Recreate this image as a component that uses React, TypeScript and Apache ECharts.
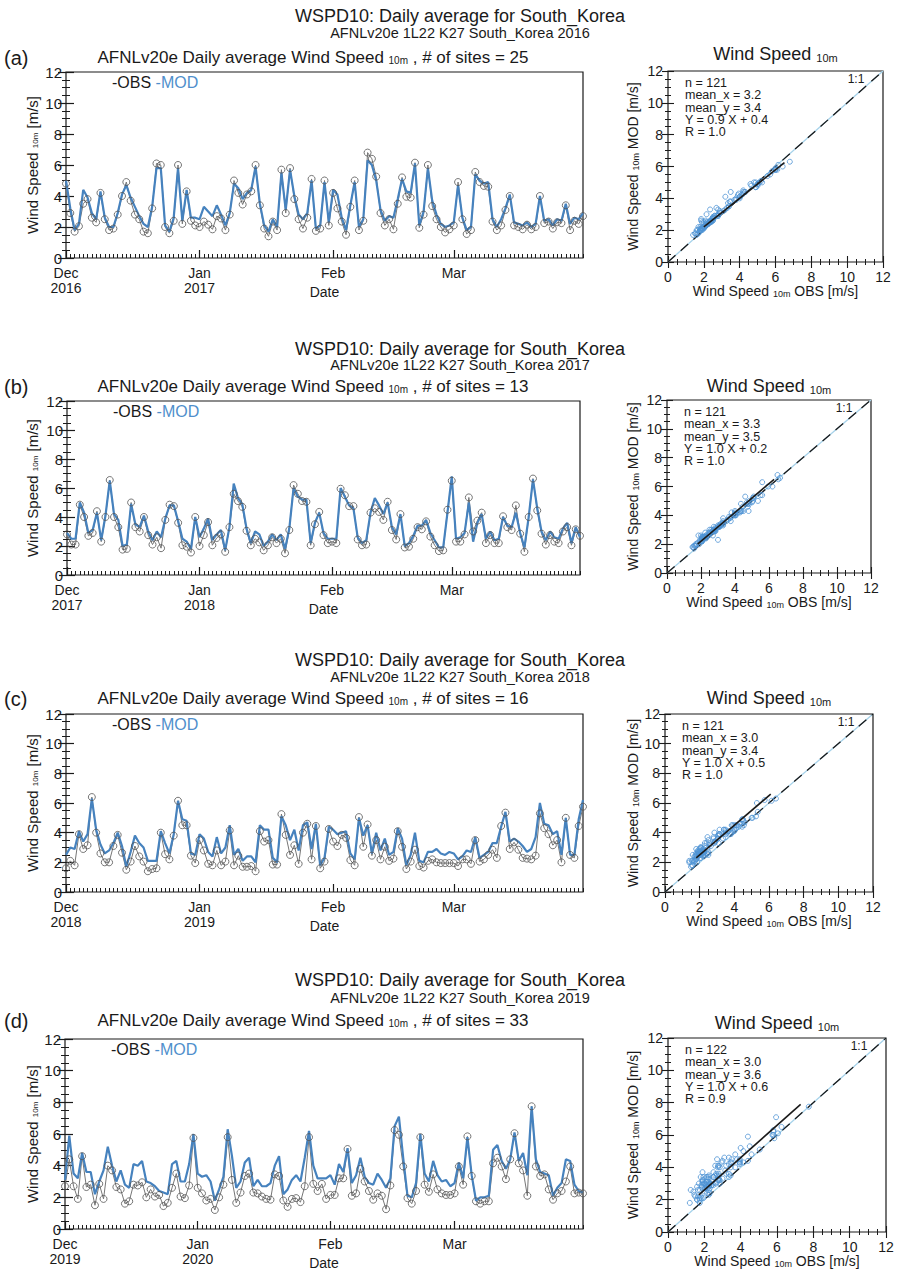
import React, { useEffect, useRef } from "react";
import * as echarts from "echarts";

// ---------------- data ----------------
const years = [2016, 2017, 2018, 2019];
const siteCounts = [25, 13, 16, 33];
const panelLetters = ["(a)", "(b)", "(c)", "(d)"];
const monthNames = ["Dec", "Jan", "Feb", "Mar"];
const monthStarts = [
  [0, 31, 62, 90],
  [0, 31, 62, 90],
  [0, 31, 62, 90],
  [0, 31, 62, 91],
];
const statN = [121, 121, 121, 122];
const statMeanX = [3.2, 3.3, 3.0, 3.0];
const statMeanY = [3.4, 3.5, 3.4, 3.6];
const regSlope = [0.9, 1.0, 1.0, 1.0];
const regIntercept = [0.4, 0.2, 0.5, 0.6];
const statR = [1.0, 1.0, 1.0, 0.9];
const regXStart = [2.0, 1.8, 1.8, 1.7];
const regXEnd = [6.5, 6.3, 6.1, 7.3];
const oneToOne = [0, 12];

const obsA = [
  4.8, 2.9, 1.7, 2.05, 3.5, 3.8, 2.6, 2.3, 4.2, 2.5,
  1.8, 1.9, 2.8, 4.0, 4.9, 3.7, 2.8, 2.5, 1.7, 1.6,
  3.2, 6.1, 6.0, 2.0, 1.6, 2.4, 6.0, 2.2, 4.3, 2.4,
  2.1, 2.0, 2.35, 2.15, 1.85, 2.7, 2.55, 1.8, 2.8, 5.0,
  4.2, 3.45, 4.1, 4.3, 6.0, 3.4, 1.9, 1.4, 2.35, 1.8,
  5.7, 2.9, 5.8, 3.8, 2.5, 1.9, 2.6, 5.1, 1.75, 1.9,
  5.0, 2.1, 4.2, 3.2, 2.35, 1.5, 3.3, 5.0, 1.8, 2.4,
  6.8, 6.4, 5.25, 2.9, 2.1, 2.5, 1.85, 3.5, 5.2, 3.95,
  3.9, 6.15, 1.95, 2.8, 6.0, 3.35, 2.5, 2.0, 1.65, 1.85,
  2.1, 4.9, 2.5, 1.55, 1.8, 5.55, 4.9, 4.65, 4.6, 2.35,
  1.8, 2.1, 3.1, 4.0, 2.1, 2.0, 1.85, 2.15, 1.85, 2.0,
  4.0, 2.25, 2.35, 1.9, 2.3, 2.25, 3.4, 1.8, 2.4, 2.2,
  2.7,
];
const modA = [
  5.0, 3.2, 1.8, 2.2, 4.4, 3.9, 2.9, 2.5, 4.3, 2.6,
  2.0, 2.0, 2.9, 4.1, 4.7, 3.9, 3.3, 2.7, 2.2, 2.0,
  3.3, 5.8, 5.8, 2.1, 1.7, 2.6, 5.8, 2.4, 4.4, 2.6,
  2.6, 2.5, 3.3, 3.0, 2.7, 3.4, 2.8, 2.1, 2.9, 4.8,
  4.5, 3.8, 4.2, 4.4, 5.9, 3.5, 2.1, 1.7, 2.5, 2.0,
  5.5, 3.1, 5.7, 4.0, 2.8, 2.5, 2.9, 5.0, 1.9, 2.1,
  4.9, 2.3, 4.4, 4.1, 2.6, 1.8, 3.4, 4.9, 2.0, 2.5,
  6.3, 6.0, 5.0, 3.1, 2.4, 2.7, 2.6, 3.8, 5.1, 4.3,
  4.2, 6.1, 2.1, 3.0, 5.8, 3.7, 2.8, 2.2, 2.0, 2.1,
  2.3, 4.7, 2.6, 1.8, 2.0, 5.4, 5.0, 4.8, 4.9, 2.5,
  2.0, 2.5, 3.2, 4.1, 2.3, 2.2, 2.1, 2.3, 2.0, 2.2,
  4.0, 2.4, 2.5, 2.1, 2.5, 2.4, 3.5, 2.2, 2.6, 2.5,
  2.9,
];
const obsB = [
  2.8, 2.1, 2.1, 4.85, 4.0, 2.7, 2.9, 4.4, 2.3, 4.0,
  6.55, 4.0, 3.3, 1.75, 1.8, 5.0, 3.3, 3.0, 4.0, 2.75,
  2.1, 2.6, 1.85, 3.8, 4.85, 4.75, 3.6, 2.05, 1.95, 1.55,
  4.0, 2.0, 2.75, 3.65, 2.05, 2.55, 2.8, 1.6, 3.3, 5.6,
  5.1, 4.7, 3.05, 2.05, 2.5, 2.25, 1.7, 2.05, 2.6, 2.2,
  2.5, 1.5, 3.1, 6.2, 5.6, 5.1, 5.05, 2.05, 3.5, 4.35,
  2.75, 2.2, 2.3, 2.2, 5.95, 5.5, 4.75, 4.75, 2.45, 2.05,
  2.1, 4.3, 4.6, 4.35, 3.8, 5.05, 3.1, 2.45, 4.2, 1.9,
  1.95, 2.5, 3.3, 3.15, 3.7, 2.65, 2.05, 1.65, 1.7, 4.5,
  6.5, 2.3, 2.3, 2.8, 5.35, 3.0, 3.75, 4.3, 2.2, 2.75,
  2.2, 2.2, 4.05, 3.3, 3.1, 4.8, 2.85, 1.6, 4.0, 6.65,
  4.45, 2.85, 2.1, 2.75, 2.3, 2.2, 3.0, 3.3, 2.05, 3.15,
  2.7,
];
const modB = [
  2.9, 2.5, 2.5, 5.0, 4.3, 2.9, 3.1, 4.3, 2.4, 4.1,
  6.5, 4.2, 3.8, 2.0, 2.1, 4.9, 3.5, 3.3, 4.1, 3.0,
  2.4, 3.0, 2.6, 3.9, 4.8, 4.8, 3.7, 2.5, 2.3, 1.8,
  4.0, 2.6, 3.2, 3.9, 2.4, 2.8, 3.1, 1.7, 3.3, 6.3,
  5.3, 4.9, 3.2, 2.2, 3.0, 2.8, 2.0, 2.3, 2.8, 2.4,
  2.8, 1.8, 3.2, 6.0, 5.4, 5.2, 5.2, 2.2, 3.6, 4.3,
  2.9, 2.5, 2.5, 2.5, 6.0, 5.4, 4.8, 4.6, 2.6, 2.2,
  2.4, 4.3, 5.3, 4.8, 4.2, 5.0, 3.3, 2.8, 4.2, 2.0,
  2.2, 2.7, 3.4, 3.4, 3.8, 2.9, 2.4, 1.9, 1.9, 4.3,
  6.8, 2.5, 2.6, 2.9, 5.0, 2.3, 3.6, 4.2, 2.5, 3.0,
  2.4, 2.5, 4.0, 3.4, 3.3, 4.3, 2.9, 1.9, 4.0, 6.6,
  4.6, 3.0, 2.4, 3.0, 2.6, 2.5, 3.2, 3.6, 2.2, 3.3,
  2.6,
];
const obsC = [
  1.6, 2.1, 1.8, 3.9, 2.9, 3.15, 6.4, 4.0, 2.6, 2.0,
  2.0, 3.1, 3.85, 2.65, 1.5, 2.05, 3.1, 2.4, 2.05, 1.4,
  1.55, 1.6, 4.0, 2.55, 2.2, 3.8, 6.15, 4.5, 4.5, 2.45,
  1.95, 3.5, 2.8, 1.9, 1.8, 2.8, 1.8, 2.05, 4.15, 1.8,
  2.45, 1.7, 1.7, 1.75, 1.4, 4.1, 3.4, 3.5, 1.85, 1.85,
  5.25, 3.85, 2.5, 3.15, 1.9, 4.0, 4.6, 2.2, 4.45, 1.6,
  2.05, 4.25, 3.4, 3.1, 3.85, 3.65, 2.15, 1.8, 5.05, 3.05,
  4.55, 2.45, 3.5, 2.2, 3.05, 2.1, 2.25, 4.1, 3.05, 1.55,
  2.05, 2.85, 1.75, 1.65, 2.1, 2.2, 2.0, 1.95, 1.95, 1.95,
  1.95, 1.75, 2.2, 2.2, 1.9, 3.5, 2.05, 2.2, 2.5, 2.85,
  2.3, 4.45, 5.35, 2.9, 3.35, 2.85, 2.3, 2.25, 2.2, 2.45,
  5.3, 4.3, 3.9, 3.15, 3.5, 2.0, 5.0, 2.5, 2.3, 4.45,
  5.75,
];
const modC = [
  2.5, 3.0, 2.9, 4.1, 3.4, 3.9, 6.3, 4.2, 3.2, 2.6,
  2.8, 3.3, 4.0, 3.1, 1.7, 2.7, 3.8, 3.3, 3.0, 2.1,
  2.1, 2.1, 4.1, 3.3, 2.6, 3.9, 6.15, 4.9, 4.8, 2.6,
  2.5, 3.9, 3.6, 2.7, 2.4, 3.7, 2.6, 3.0, 4.5, 2.5,
  2.9, 2.1, 2.4, 2.4, 2.0, 4.5, 4.2, 4.2, 2.3, 2.0,
  5.1, 4.5, 3.5, 4.2, 2.8, 4.5, 4.7, 2.9, 4.6, 1.8,
  2.3, 4.4, 4.2, 3.9, 4.0, 4.1, 2.6, 2.2, 5.0, 3.8,
  4.5, 2.6, 4.0, 2.8, 3.6, 2.5, 2.7, 4.3, 3.6, 1.8,
  2.5, 4.0, 2.1, 2.0, 2.7, 2.7, 2.9, 2.6, 2.5, 2.7,
  2.6, 2.2, 2.4, 2.8, 2.7, 3.7, 2.3, 2.5, 2.7, 3.3,
  3.3, 4.4, 5.4, 3.4, 3.6, 3.4, 3.1, 2.7, 2.9, 3.7,
  6.0, 4.6, 4.5, 3.9, 4.1, 2.5, 5.0, 2.5, 2.5, 4.9,
  6.2,
];
const obsD = [
  2.7, 4.4, 2.7, 1.9, 4.6, 2.65, 2.8, 1.5, 2.85, 1.9,
  4.0, 3.7, 2.65, 2.5, 1.6, 1.75, 2.8, 2.75, 2.95, 2.0,
  2.5, 2.05, 2.15, 1.45, 1.65, 2.6, 3.5, 2.05, 1.95, 2.75,
  5.75, 2.6, 2.25, 1.8, 1.9, 1.2, 2.0, 2.8, 5.8, 3.1,
  1.65, 2.3, 3.35, 3.5, 2.3, 2.25, 2.05, 1.9, 1.85, 3.45,
  3.35, 1.8, 1.4, 1.9, 1.95, 1.7, 2.7, 5.8, 2.85, 2.4,
  2.85, 1.9, 2.15, 2.15, 3.2, 3.2, 5.05, 2.1, 2.25, 3.8,
  3.0, 2.4, 1.85, 2.25, 2.1, 1.25, 2.75, 6.25, 5.95, 3.95,
  1.95, 1.6, 2.4, 5.8, 2.8, 2.35, 3.45, 2.5, 2.25, 2.15,
  2.15, 2.25, 3.95, 2.8, 5.85, 3.35, 1.75, 1.6, 1.75, 1.75,
  4.15, 4.5, 3.95, 3.15, 4.4, 6.05, 4.15, 3.7, 2.1, 7.75,
  3.95, 3.35, 3.45, 2.5, 1.85, 2.25, 2.4, 3.0, 3.95, 2.25,
  2.3, 2.25,
];
const modD = [
  3.1, 5.9, 3.5, 3.2, 4.8, 3.6, 3.6, 2.2, 3.0, 3.7,
  5.2, 4.0, 3.0, 3.7, 2.8, 2.6, 4.1, 4.0, 4.3, 3.0,
  2.9, 2.7, 2.4, 2.3, 2.2, 4.1, 4.3, 3.0, 3.0, 4.1,
  6.0, 3.5, 3.3, 3.4, 3.0, 1.8, 2.5, 3.3, 6.3, 4.6,
  2.6, 3.0, 4.2, 4.5, 2.7, 3.1, 2.7, 2.7, 2.9, 4.0,
  4.6, 2.2, 2.5, 3.1, 3.4, 3.0, 4.5, 6.2, 4.0, 3.2,
  3.2, 3.2, 3.4, 2.8, 4.1, 3.6, 5.1, 2.9, 3.4, 4.5,
  3.3, 2.9, 2.8, 3.5, 3.1, 2.6, 3.2, 6.5, 7.1, 4.5,
  2.1, 2.0, 2.9, 6.0, 3.5, 3.0, 4.3, 3.4, 3.0, 3.1,
  2.7, 2.9, 4.2, 3.2, 5.8, 3.4, 1.8, 2.0, 2.0, 2.1,
  5.0, 5.3, 4.3, 3.8, 4.4, 6.1, 4.3, 4.8, 3.4, 7.75,
  4.4, 3.6, 3.5, 3.4, 2.1, 2.6, 2.9, 4.4, 4.3, 2.8,
  2.4, 2.3,
];

const obsSeries = [obsA, obsB, obsC, obsD];
const modSeries = [modA, modB, modC, modD];

// ---------------- layout / style ----------------
const F = "'Liberation Sans', Arial, Helvetica, sans-serif";
const INK = "#1a1a1a";
const MOD_COLOR = "#4682be";
const MOD_TEXT = "#4f8fcc";
const OBS_LINE = "#767676";
const OBS_RING = "#555555";
const PT_COLOR = "#4f94d4";
const ONE_COLOR = "#a6d2ea";

const layouts = [
  { ts: [66, 72, 517, 186], sc: [668, 71, 215, 191], sup: 16, sub: 33, row: 57, scRow: 54 },
  { ts: [67, 401, 513, 174], sc: [667, 400, 204, 173], sup: 349, sub: 365, row: 386, scRow: 386 },
  { ts: [66, 714, 517, 178], sc: [665, 714, 208, 178], sup: 660, sub: 677, row: 698, scRow: 698 },
  { ts: [65, 1039, 518, 190], sc: [668, 1038, 218, 194], sup: 980, sub: 998, row: 1020, scRow: 1023 },
];

const subRich = (fs: number, base: number) => ({
  s: { fontSize: fs, fontFamily: F, fill: INK, verticalAlign: "bottom", lineHeight: Math.round(fs * 0.75) },
  k: { fontSize: base, fontFamily: F, fill: INK },
  b: { fontSize: base, fontFamily: F, fill: MOD_TEXT },
});

function txt(x: number, y: number, text: string, size: number, o: any = {}) {
  return {
    type: "text",
    x,
    y,
    rotation: o.rot || 0,
    silent: true,
    z: 100,
    style: {
      text,
      fontSize: size,
      fontFamily: F,
      fill: o.fill || INK,
      align: o.align || "center",
      verticalAlign: "middle",
      rich: o.rich,
    },
  };
}

function buildOption() {
  const grid: any[] = [];
  const xAxis: any[] = [];
  const yAxis: any[] = [];
  const series: any[] = [];
  const graphic: any[] = [];

  obsSeries.forEach((obs, i) => {
    const mod = modSeries[i];
    const L = layouts[i];
    const n = obs.length;
    const months = monthStarts[i];
    const yr = years[i];
    const mLabels = [`Dec\n${yr}`, `Jan\n${yr + 1}`, monthNames[2], monthNames[3]];

    // ---- time-series grid ----
    const gTs = grid.length;
    grid.push({
      left: L.ts[0], top: L.ts[1], width: L.ts[2], height: L.ts[3],
      show: true, borderColor: INK, borderWidth: 1.2, backgroundColor: "transparent",
    });
    const xTs = xAxis.length;
    xAxis.push({
      gridIndex: gTs, type: "value", min: 0, max: n - 1, position: "bottom",
      axisLine: { show: false }, splitLine: { show: false },
      axisTick: { show: true, inside: true, length: 8, customValues: months, lineStyle: { color: INK, width: 1.2 } },
      axisLabel: {
        show: true, customValues: months, margin: 7, fontSize: 14, lineHeight: 15,
        color: INK, fontFamily: F,
        formatter: (v: number) => {
          const k = months.indexOf(Math.round(v));
          return k >= 0 ? mLabels[k] : "";
        },
      },
    });
    xAxis.push({
      gridIndex: gTs, type: "value", min: 0, max: n - 1, interval: 1, position: "bottom",
      axisLine: { show: false }, splitLine: { show: false }, axisLabel: { show: false },
      axisTick: { show: true, inside: true, length: 4, lineStyle: { color: INK, width: 1 } },
    });
    const yTs = yAxis.length;
    [true, false].forEach((lab) => {
      yAxis.push({
        gridIndex: gTs, type: "value", min: 0, max: 12, interval: 2,
        position: lab ? "left" : "right",
        axisLine: { show: false }, splitLine: { show: false },
        axisTick: { show: true, inside: true, length: 8, lineStyle: { color: INK, width: 1.2 } },
        minorTick: { show: true, splitNumber: 4, length: 4, lineStyle: { color: INK, width: 1 } },
        axisLabel: { show: lab, margin: 4, fontSize: 15, color: INK, fontFamily: F, verticalAlign: "middle" },
      });
    });

    series.push({
      type: "line", xAxisIndex: xTs, yAxisIndex: yTs, z: 2, symbol: "none",
      data: obs.map((v, d) => [d, v]),
      lineStyle: { color: OBS_LINE, width: 1 },
    });
    series.push({
      type: "line", xAxisIndex: xTs, yAxisIndex: yTs, z: 3, symbol: "none",
      data: mod.map((v, d) => [d, v]),
      lineStyle: { color: MOD_COLOR, width: 2.2 },
    });
    series.push({
      type: "scatter", xAxisIndex: xTs, yAxisIndex: yTs, z: 4, symbol: "circle", symbolSize: 7,
      data: obs.map((v, d) => [d, v]),
      itemStyle: { color: "rgba(255,255,255,0)", borderColor: OBS_RING, borderWidth: 1 },
    });

    // ---- scatter grid ----
    const gSc = grid.length;
    grid.push({
      left: L.sc[0], top: L.sc[1], width: L.sc[2], height: L.sc[3],
      show: true, borderColor: INK, borderWidth: 1.2, backgroundColor: "transparent",
    });
    const xSc = xAxis.length;
    ["bottom", "top"].forEach((pos) => {
      xAxis.push({
        gridIndex: gSc, type: "value", min: 0, max: 12, interval: 2, position: pos,
        axisLine: { show: false }, splitLine: { show: false },
        axisTick: { show: true, inside: true, length: 6, lineStyle: { color: INK, width: 1.1 } },
        minorTick: { show: true, splitNumber: 4, length: 3, lineStyle: { color: INK, width: 1 } },
        axisLabel: { show: pos === "bottom", margin: 8, fontSize: 14, color: INK, fontFamily: F },
      });
    });
    const ySc = yAxis.length;
    ["left", "right"].forEach((pos) => {
      yAxis.push({
        gridIndex: gSc, type: "value", min: 0, max: 12, interval: 2, position: pos,
        axisLine: { show: false }, splitLine: { show: false },
        axisTick: { show: true, inside: true, length: 6, lineStyle: { color: INK, width: 1.1 } },
        minorTick: { show: true, splitNumber: 4, length: 3, lineStyle: { color: INK, width: 1 } },
        axisLabel: { show: pos === "left", margin: 5, fontSize: 14, color: INK, fontFamily: F },
      });
    });

    const oneLine = oneToOne.map((v) => [v, v]);
    series.push({
      type: "line", xAxisIndex: xSc, yAxisIndex: ySc, z: 2, symbol: "none",
      data: oneLine, lineStyle: { color: ONE_COLOR, width: 1.3 },
    });
    series.push({
      type: "line", xAxisIndex: xSc, yAxisIndex: ySc, z: 3, symbol: "none",
      data: oneLine, lineStyle: { color: INK, width: 1.3, type: [10, 7] },
    });
    series.push({
      type: "scatter", xAxisIndex: xSc, yAxisIndex: ySc, z: 4, symbol: "circle", symbolSize: 5,
      data: obs.map((v, d) => [v, mod[d]]),
      itemStyle: { color: "rgba(255,255,255,0)", borderColor: PT_COLOR, borderWidth: 1 },
    });
    series.push({
      type: "line", xAxisIndex: xSc, yAxisIndex: ySc, z: 5, symbol: "none",
      data: [regXStart[i], regXEnd[i]].map((x) => [x, regSlope[i] * x + regIntercept[i]]),
      lineStyle: { color: INK, width: 1.6 },
    });

    // ---- texts ----
    const [tl, tt, tw, th] = L.ts;
    const [sl, st, sw, sh] = L.sc;
    graphic.push(txt(460, L.sup, "WSPD10: Daily average for South_Korea", 18));
    graphic.push(txt(460, L.sub, `AFNLv20e 1L22 K27 South_Korea ${yr}`, 14.5));
    graphic.push(txt(4, L.row + 1, panelLetters[i], 20, { align: "left" }));
    graphic.push(
      txt(313, L.row, `AFNLv20e Daily average Wind Speed {s|10m} , # of sites = ${siteCounts[i]}`, 17, { rich: subRich(10, 17) })
    );
    graphic.push(txt(tl + 46, tt + 10, "{k|-OBS} {b|-MOD}", 16, { align: "left", rich: subRich(10, 16) }));
    graphic.push(txt(32, tt + th / 2, "Wind Speed {s|10m} [m/s]", 15, { rot: Math.PI / 2, rich: subRich(8, 15) }));
    graphic.push(txt(tl + tw / 2, tt + th + 34, "Date", 14));

    graphic.push(txt(sl + sw / 2, L.scRow, "Wind Speed {s|10m}", 18, { rich: subRich(11, 18) }));
    graphic.push(txt(633, st + sh / 2, "Wind Speed {s|10m} MOD [m/s]", 14, { rot: Math.PI / 2, rich: subRich(9, 14) }));
    graphic.push(txt(sl + sw / 2, st + sh + 29, "Wind Speed {s|10m} OBS [m/s]", 14, { rich: subRich(9, 14) }));
    graphic.push(txt(sl + sw - 27, st + 8, "1:1", 12));
    const lines = [
      `n = ${statN[i]}`,
      `mean_x = ${statMeanX[i].toFixed(1)}`,
      `mean_y = ${statMeanY[i].toFixed(1)}`,
      `Y = ${regSlope[i].toFixed(1)} X + ${regIntercept[i].toFixed(1)}`,
      `R = ${statR[i].toFixed(1)}`,
    ];
    lines.forEach((s, k) => graphic.push(txt(sl + 17, st + 12 + k * 12.3, s, 12.5, { align: "left" })));
  });

  return {
    animation: false,
    backgroundColor: "#ffffff",
    grid,
    xAxis,
    yAxis,
    series,
    graphic,
  };
}

export default function App() {
  const ref = useRef<HTMLDivElement>(null);
  useEffect(() => {
    if (!ref.current) return;
    const chart = echarts.init(ref.current, null, { renderer: "svg", width: 902, height: 1278 });
    chart.setOption(buildOption() as any);
    return () => chart.dispose();
  }, []);
  return (
    <div
      ref={ref}
      style={{ position: "absolute", left: 0, top: 0, width: 902, height: 1278, background: "#fff" }}
    />
  );
}
